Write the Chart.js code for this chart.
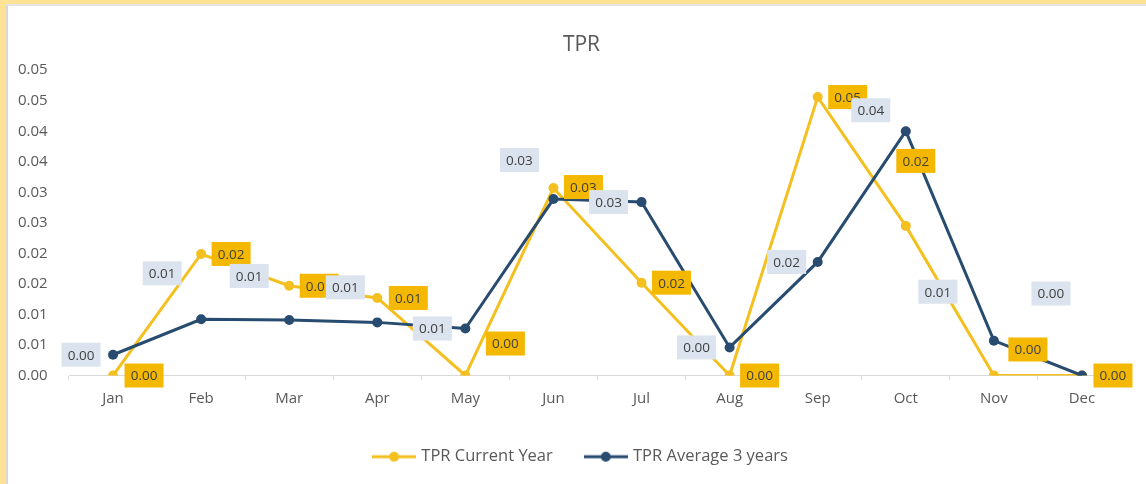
<!DOCTYPE html>
<html>
<head>
<meta charset="utf-8">
<script src="https://cdn.jsdelivr.net/npm/chart.js@4.4.1/dist/chart.umd.min.js"></script>
<style>
  html, body { margin: 0; padding: 0; width: 1146px; height: 484px; overflow: hidden; background: #ffe294; }
  #wrap { position: absolute; left: 6px; top: 4px; width: 1138px; height: 478px; background: #fff;
          border-top: 2px solid #e4e4e4; border-left: 2px solid #d8d8d8; }
  canvas { display: block; }
</style>
</head>
<body>
<div id="wrap"><canvas id="chart" width="1138" height="478"></canvas></div>
<script>
// TPR data
const months = ['Jan','Feb','Mar','Apr','May','Jun','Jul','Aug','Sep','Oct','Nov','Dec'];
const currentYear = [0, 0.0199, 0.0147, 0.0127, 0, 0.0307, 0.0152, 0, 0.0456, 0.0245, 0, 0];
const avg3Years   = [0.0034, 0.0092, 0.0091, 0.0087, 0.0077, 0.0289, 0.0284, 0.0046, 0.0186, 0.0400, 0.0057, 0];
const yTickLabels = ['0.00','0.01','0.01','0.02','0.02','0.03','0.03','0.04','0.04','0.05','0.05'];

const yellow = '#f4c01f';
const navy = '#284b70';
const textGrey = '#595959';
const font = '"Open Sans", sans-serif';

// data label offsets from each point (placed by hand in the original)
const curLabelPos = [[31,0],[30,0],[30,0],[31,0],[40,-32],[30,-1],[30,0],[30,0],[30,0],[10,-65],[34,-26],[31,0]];
const avgLabelPos = [[-32,0],[-39,-46],[-40,-44],[-32,-35],[-33,0],[-34,-39],[-33,0],[-33,0],[-31,0],[-35,-21],[-56,-49],[-31,-82]];

function legendMarker(color){
  const c = document.createElement('canvas');
  c.width = 44; c.height = 12;
  const g = c.getContext('2d');
  g.strokeStyle = color; g.lineWidth = 3;
  g.beginPath(); g.moveTo(0,6); g.lineTo(44,6); g.stroke();
  g.fillStyle = color;
  g.beginPath(); g.arc(22,6,5,0,Math.PI*2); g.fill();
  return c;
}
const markers = [legendMarker(yellow), legendMarker(navy)];

// boxed value labels, yellow series first so the blue ones sit on top
const pointLabels = {
  id: 'pointLabels',
  afterDatasetsDraw(chart){
    const ctx = chart.ctx;
    ctx.save();
    ctx.font = '13.5px ' + font;
    ctx.textAlign = 'center';
    ctx.textBaseline = 'middle';
    chart.data.datasets.forEach((ds, di) => {
      const meta = chart.getDatasetMeta(di);
      meta.data.forEach((pt, i) => {
        const x = pt.x + ds.labelPos[i][0];
        const y = pt.y + ds.labelPos[i][1];
        ctx.fillStyle = ds.labelBg;
        ctx.fillRect(x - 19.5, y - 12, 39, 24);
        ctx.fillStyle = '#404040';
        ctx.fillText(ds.data[i].toFixed(2), x, y + 1);
      });
    });
    ctx.restore();
  }
};

const ctx = document.getElementById('chart').getContext('2d');
new Chart(ctx, {
  type: 'line',
  data: {
    labels: months,
    datasets: [
      { label: 'TPR Current Year', data: currentYear, borderColor: yellow, backgroundColor: yellow,
        borderWidth: 3, pointRadius: 5, pointBorderWidth: 0, tension: 0, order: 1,
        labelBg: '#f4b800', labelPos: curLabelPos },
      { label: 'TPR Average 3 years', data: avg3Years, borderColor: navy, backgroundColor: navy,
        borderWidth: 3, pointRadius: 5, pointBorderWidth: 0, tension: 0, order: 0,
        labelBg: '#dbe3ee', labelPos: avgLabelPos }
    ]
  },
  options: {
    responsive: false,
    animation: false,
    layout: { padding: { left: 29, right: 20, top: 0, bottom: 9 } },
    scales: {
      x: {
        offset: true,
        grid: { display: true, drawOnChartArea: false, drawTicks: true, tickLength: 5, color: '#d9d9d9', offset: true },
        border: { color: '#d9d9d9' },
        ticks: { color: textGrey, font: { family: font, size: 15 }, padding: 9, maxRotation: 0, autoSkip: false },
        afterFit: s => { s.height = 39; }
      },
      y: {
        min: 0, max: 0.05,
        grid: { display: false },
        border: { display: false },
        // mirrored with a negative padding so the labels sit left of the narrow axis box without clipping
        ticks: { stepSize: 0.005, mirror: true, padding: -51, color: textGrey, font: { family: font, size: 15 },
                 callback: v => yTickLabels[Math.round(v / 0.005)] },
        afterFit: s => { s.width = 32; }
      }
    },
    plugins: {
      title: { display: true, text: 'TPR', color: textGrey, font: { family: font, size: 21, weight: 'normal' },
               padding: { top: 26, bottom: 13 } },
      legend: {
        position: 'bottom',
        labels: {
          usePointStyle: true, pointStyleWidth: 38, padding: 34,
          color: textGrey, font: { family: font, size: 16.5 },
          sort: (a, b) => a.datasetIndex - b.datasetIndex,
          generateLabels: chart => Chart.defaults.plugins.legend.labels.generateLabels(chart)
            .map(item => Object.assign(item, { pointStyle: markers[item.datasetIndex] }))
        }
      },
      tooltip: { enabled: false }
    }
  },
  plugins: [pointLabels]
});
</script>
</body>
</html>
